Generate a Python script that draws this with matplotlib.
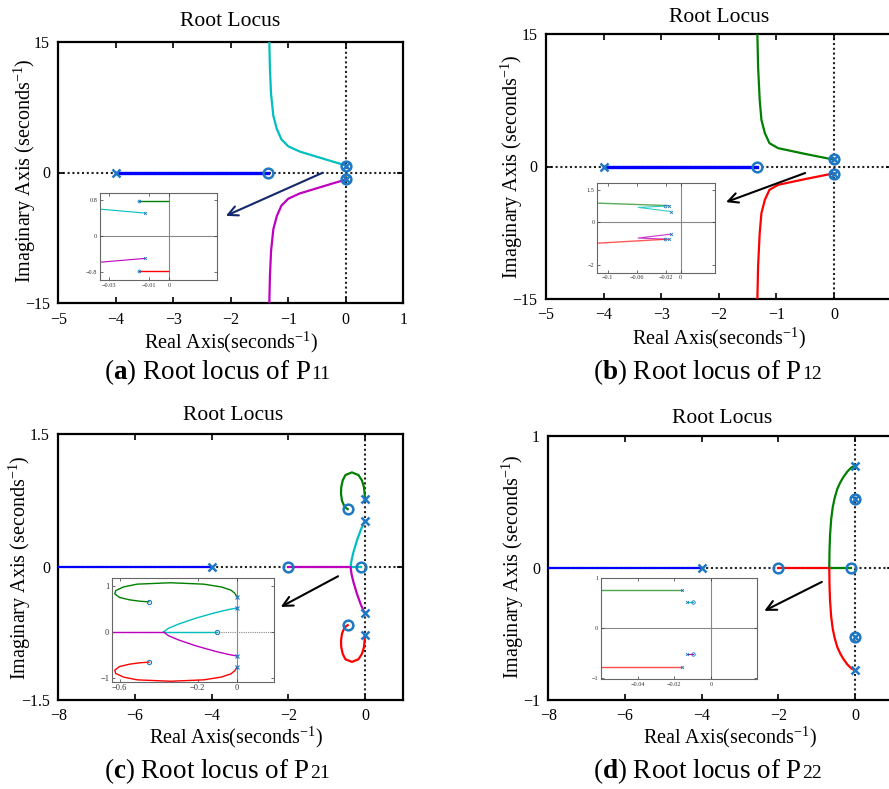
import matplotlib
matplotlib.use('Agg')
import matplotlib.pyplot as plt

plt.rcParams['font.family'] = ['Liberation Serif', 'DejaVu Serif']
plt.rcParams['mathtext.fontset'] = 'custom'
plt.rcParams['mathtext.rm'] = 'Liberation Serif'
plt.rcParams['mathtext.it'] = 'Liberation Serif:italic'
plt.rcParams['mathtext.bf'] = 'Liberation Serif:bold'
plt.rcParams['axes.unicode_minus'] = True

# ---------------- DATA ----------------
# Panel (a): P11
a_blue_x = [-4.0, -1.35]
a_blue_y = [0.0, 0.0]
a_cyan_x = [-0.02, -0.25, -0.5, -0.8, -1.0, -1.12, -1.2, -1.26, -1.3, -1.32, -1.33]
a_cyan_y = [0.85, 1.3, 1.8, 2.4, 3.0, 3.8, 5.0, 6.5, 9.0, 12.0, 15.0]
a_mag_x = [-0.02, -0.25, -0.5, -0.8, -1.0, -1.12, -1.2, -1.26, -1.3, -1.32, -1.33]
a_mag_y = [-0.85, -1.3, -1.8, -2.4, -3.0, -3.8, -5.0, -6.5, -9.0, -12.0, -15.0]
a_poles_x = [-4.0, 0.0, 0.0]
a_poles_y = [0.0, 0.8, -0.8]
a_zeros_x = [-1.35, 0.0, 0.0]
a_zeros_y = [0.0, 0.8, -0.8]
# inset (a)
ai_green_x = [-0.0153, -0.0007]
ai_green_y = [0.79, 0.79]
ai_cyan_x = [-0.0345, -0.012]
ai_cyan_y = [0.605, 0.517]
ai_mag_x = [-0.0345, -0.012]
ai_mag_y = [-0.575, -0.49]
ai_red_x = [-0.0153, -0.0007]
ai_red_y = [-0.76, -0.76]
ai_zeros_x = [-0.0153, -0.0153]
ai_zeros_y = [0.79, -0.76]
ai_poles_x = [-0.012, -0.012]
ai_poles_y = [0.517, -0.49]

# Panel (b): P12
b_blue_x = [-4.0, -1.335]
b_blue_y = [0.0, 0.0]
b_green_x = [-0.02, -0.51, -0.97, -1.12, -1.2, -1.26, -1.29, -1.318, -1.33]
b_green_y = [0.8, 1.44, 2.08, 2.64, 3.78, 5.29, 7.56, 11.33, 15.0]
b_red_x = [-0.02, -0.51, -0.97, -1.12, -1.2, -1.26, -1.29, -1.318, -1.33]
b_red_y = [-0.8, -1.44, -2.08, -2.64, -3.78, -5.29, -7.56, -11.33, -15.0]
b_poles_x = [-4.0, 0.0, 0.0]
b_poles_y = [0.0, 0.8, -0.8]
b_zeros_x = [-1.335, 0.0, 0.0]
b_zeros_y = [0.0, 0.8, -0.8]
# inset (b)
bi_green_x = [-0.114, -0.0214, -0.016]
bi_green_y = [0.88, 0.77, 0.76]
bi_cyan_x = [-0.0132, -0.058, -0.0214]
bi_cyan_y = [0.49, 0.68, 0.74]
bi_mag_x = [-0.0132, -0.058, -0.0214]
bi_mag_y = [-0.56, -0.74, -0.79]
bi_red_x = [-0.114, -0.0214, -0.016]
bi_red_y = [-0.98, -0.80, -0.80]
bi_zeros_x = [-0.0214, -0.0214]
bi_zeros_y = [0.76, -0.79]
bi_poles_x = [-0.016, -0.016, -0.0132, -0.0132]
bi_poles_y = [0.76, -0.79, 0.49, -0.56]

# Panel (c): P21
c_blue_x = [-8.0, -4.0]
c_blue_y = [0.0, 0.0]
c_magax_x = [-2.0, -0.375]
c_magax_y = [0.0, 0.0]
c_cyanax_x = [-0.375, -0.1]
c_cyanax_y = [0.0, 0.0]
c_cyan_x = [-0.375, -0.35, -0.3, -0.21, -0.11, -0.04, 0.0]
c_cyan_y = [0.0, 0.08, 0.17, 0.3, 0.42, 0.49, 0.52]
c_mag_x = [-0.375, -0.35, -0.3, -0.21, -0.11, -0.04, 0.0]
c_mag_y = [0.0, -0.08, -0.17, -0.3, -0.42, -0.49, -0.52]
c_green_x = [0.0, -0.01, -0.03, -0.08, -0.17, -0.34, -0.51, -0.58, -0.62, -0.625, -0.6, -0.55, -0.5, -0.45]
c_green_y = [0.77, 0.84, 0.91, 0.98, 1.04, 1.07, 1.04, 0.98, 0.9, 0.83, 0.75, 0.7, 0.67, 0.655]
c_red_x = [0.0, -0.01, -0.03, -0.08, -0.17, -0.34, -0.51, -0.58, -0.62, -0.625, -0.6, -0.55, -0.5, -0.45]
c_red_y = [-0.77, -0.84, -0.91, -0.98, -1.04, -1.07, -1.04, -0.98, -0.9, -0.83, -0.75, -0.7, -0.67, -0.655]
c_poles_x = [-4.0, 0.0, 0.0, 0.0, 0.0]
c_poles_y = [0.0, 0.77, -0.77, 0.52, -0.52]
c_zeros_x = [-2.0, -0.1, -0.45, -0.45]
c_zeros_y = [0.0, 0.0, 0.655, -0.655]

# Panel (d): P22
d_blue_x = [-8.0, -4.0]
d_blue_y = [0.0, 0.0]
d_redax_x = [-2.0, -0.67]
d_redax_y = [0.0, 0.0]
d_greenax_x = [-0.67, -0.1]
d_greenax_y = [0.0, 0.0]
d_green_x = [-0.67, -0.665, -0.65, -0.62, -0.58, -0.53, -0.46, -0.38, -0.3, -0.2, -0.1, 0.0]
d_green_y = [0.0, 0.12, 0.25, 0.37, 0.46, 0.53, 0.6, 0.65, 0.69, 0.73, 0.76, 0.775]
d_red_x = [-0.67, -0.665, -0.65, -0.62, -0.58, -0.53, -0.46, -0.38, -0.3, -0.2, -0.1, 0.0]
d_red_y = [0.0, -0.12, -0.25, -0.37, -0.46, -0.53, -0.6, -0.65, -0.69, -0.73, -0.76, -0.775]
d_poles_x = [-4.0, 0.0, 0.0, 0.0, 0.0]
d_poles_y = [0.0, 0.775, -0.775, 0.52, -0.52]
d_zeros_x = [-2.0, -0.1, 0.0, 0.0]
d_zeros_y = [0.0, 0.0, 0.52, -0.52]
# inset (d)
di_green_x = [-0.06, -0.0156]
di_green_y = [0.77, 0.77]
di_cyan_x = [-0.0133, -0.010]
di_cyan_y = [0.52, 0.52]
di_mag_x = [-0.0133, -0.010]
di_mag_y = [-0.514, -0.514]
di_red_x = [-0.06, -0.0156]
di_red_y = [-0.768, -0.768]
di_poles_x = [-0.0156, -0.0156, -0.0133, -0.0133]
di_poles_y = [0.77, -0.768, 0.52, -0.514]
di_zeros_x = [-0.010, -0.010]
di_zeros_y = [0.52, -0.514]

# ---------------- STYLE ----------------
C_BLUE = '#0000ff'
C_GREEN = '#008000'
C_RED = '#ff0000'
C_CYAN = '#00bfbf'
C_MAG = '#bf00bf'
C_MARK = '#1f78c4'

W, H = 889, 789
fig = plt.figure(figsize=(W / 100, H / 100), dpi=100)
renderer = fig.canvas.get_renderer()


def rect_px(l, t, r, b):
    return [l / W, 1 - b / H, (r - l) / W, (b - t) / H]


def ftext(x, y, s, **kw):
    return fig.text(x / W, 1 - y / H, s, ha='center', va='center', **kw)


def main_axes(rect, xlim, ylim, xticks, xtl, yticks, ytl):
    ax = fig.add_axes(rect)
    ax.set_xlim(xlim)
    ax.set_ylim(ylim)
    ax.set_xticks(xticks)
    ax.set_xticklabels(xtl)
    ax.set_yticks(yticks)
    ax.set_yticklabels(ytl)
    ax.tick_params(direction='in', top=True, right=True, length=4, width=1.2,
                   labelsize=11.5, pad=6)
    for s in ax.spines.values():
        s.set_linewidth(1.6)
    ax.axhline(0, color='#222222', lw=1.5, ls=(0, (1, 1.3)), zorder=1)
    ax.axvline(0, color='#222222', lw=1.5, ls=(0, (1, 1.3)), zorder=1)
    return ax


def inset_axes(rect, xlim, ylim, xticks, xtl, yticks, ytl, dotted_h=False):
    ax = fig.add_axes(rect)
    ax.set_xlim(xlim)
    ax.set_ylim(ylim)
    ax.set_xticks(xticks)
    ax.set_xticklabels(xtl)
    ax.set_yticks(yticks)
    ax.set_yticklabels(ytl)
    ax.tick_params(direction='in', top=True, right=True, length=2, width=0.5,
                   labelsize=4.5, pad=2, colors='#333333')
    for s in ax.spines.values():
        s.set_linewidth(0.8)
        s.set_color('#666666')
    ax.axhline(0, color='#888888', lw=0.8, ls=(0, (1, 1)) if dotted_h else '-', zorder=1)
    ax.axvline(0, color='#888888', lw=0.8, zorder=1)
    return ax


def markers(ax, px, py, zx, zy, ms_o=7, ms_x=6, mew=1.8):
    ax.plot(px, py, 'x', color=C_MARK, ms=ms_x, mew=mew, zorder=5)
    ax.plot(zx, zy, 'o', color=C_MARK, mfc='none', ms=ms_o, mew=mew, zorder=5)


def caption(cx, cy, letter, sub):
    size_main, size_sub = 19.5, 14
    t1 = fig.text(0, 1 - cy / H, r'($\mathbf{' + letter + r'}$) Root locus of P',
                  ha='left', va='baseline', fontsize=size_main)
    t2 = fig.text(0, 1 - cy / H, sub, ha='left', va='baseline', fontsize=size_sub)
    w1 = t1.get_window_extent(renderer).width
    w2 = t2.get_window_extent(renderer).width
    x0 = cx - (w1 + w2) / 2
    base = 1 - (cy + 6) / H
    t1.set_position((x0 / W, base))
    t2.set_position(((x0 + w1 + 0.5) / W, base))


def labels(tx, ty, xx, xy, yx, yy, cx, cy, letter, sub):
    ftext(tx, ty, 'Root Locus', fontsize=15.5)
    ftext(xx, xy, r'Real Axis(seconds$^{-1}$)', fontsize=14.5)
    ftext(yx, yy, r'Imaginary Axis (seconds$^{-1}$)', fontsize=14.5, rotation=90)
    caption(cx, cy, letter, sub)


arrow_kw = dict(arrowstyle='->,head_length=0.7,head_width=0.35', lw=1.5)

# ---------------- (a) ----------------
ax = main_axes(rect_px(58.3, 41.7, 403.3, 303.3), (-5, 1), (-15, 15),
               [-5, -4, -3, -2, -1, 0, 1], ['\u22125', '\u22124', '\u22123', '\u22122', '\u22121', '0', '1'],
               [-15, 0, 15], ['\u221215', '0', '15'])
ax.plot(a_blue_x, a_blue_y, color=C_BLUE, lw=2.4, zorder=3)
ax.plot(a_cyan_x, a_cyan_y, color=C_CYAN, lw=1.6, zorder=3)
ax.plot(a_mag_x, a_mag_y, color=C_MAG, lw=1.6, zorder=3)
markers(ax, a_poles_x, a_poles_y, a_zeros_x, a_zeros_y)
ax.annotate('', xy=(-2.13, -5.1), xytext=(-0.36, 0.1),
            arrowprops=dict(color='#14286e', **arrow_kw), annotation_clip=False)
labels(230.5, 21, 230.8, 342, 25, 171, 216.7, 373.3, 'a', '11')

ai = inset_axes(rect_px(100, 192.7, 216.7, 280), (-0.0345, 0.0235), (-0.97, 0.97),
                [-0.03, -0.01, 0], ['\u22120.03', '\u22120.01', '0'],
                [-0.8, 0, 0.8], ['\u22120.8', '0', '0.8'])
ai.plot(ai_green_x, ai_green_y, color=C_GREEN, lw=1.0)
ai.plot(ai_cyan_x, ai_cyan_y, color=C_CYAN, lw=0.8)
ai.plot(ai_mag_x, ai_mag_y, color=C_MAG, lw=0.8)
ai.plot(ai_red_x, ai_red_y, color=C_RED, lw=1.0)
markers(ai, ai_poles_x, ai_poles_y, ai_zeros_x, ai_zeros_y, ms_o=2, ms_x=2, mew=0.6)

# ---------------- (b) ----------------
ax = main_axes(rect_px(546, 34.3, 891.6, 298.7), (-5, 1), (-15, 15),
               [-5, -4, -3, -2, -1, 0, 1], ['\u22125', '\u22124', '\u22123', '\u22122', '\u22121', '0', ''],
               [-15, 0, 15], ['\u221215', '0', '15'])
ax.plot(b_blue_x, b_blue_y, color=C_BLUE, lw=2.4, zorder=3)
ax.plot(b_green_x, b_green_y, color=C_GREEN, lw=1.6, zorder=3)
ax.plot(b_red_x, b_red_y, color=C_RED, lw=1.6, zorder=3)
markers(ax, b_poles_x, b_poles_y, b_zeros_x, b_zeros_y)
ax.annotate('', xy=(-1.92, -4.15), xytext=(-0.456, -0.63),
            arrowprops=dict(color='black', **arrow_kw), annotation_clip=False)
labels(719, 17, 719, 338, 511.7, 166.7, 707.5, 373.3, 'b', '12')

bi = inset_axes(rect_px(597.3, 183.3, 715, 272.7), (-0.114, 0.047), (-2.35, 1.8),
                [-0.1, -0.06, -0.02, 0], ['\u22120.1', '\u22120.06', '\u22120.02', '0'],
                [-2, 0, 1.5], ['\u22122', '0', '1.5'])
bi.plot(bi_green_x, bi_green_y, color=C_GREEN, lw=1.0, alpha=0.65)
bi.plot(bi_cyan_x, bi_cyan_y, color=C_CYAN, lw=0.8, alpha=0.8)
bi.plot(bi_mag_x, bi_mag_y, color=C_MAG, lw=0.8, alpha=0.8)
bi.plot(bi_red_x, bi_red_y, color=C_RED, lw=1.0, alpha=0.65)
markers(bi, bi_poles_x, bi_poles_y, bi_zeros_x, bi_zeros_y, ms_o=2, ms_x=2, mew=0.6)

# ---------------- (c) ----------------
ax = main_axes(rect_px(58.3, 434.3, 403.3, 700), (-8, 1), (-1.5, 1.5),
               [-8, -6, -4, -2, 0], ['\u22128', '\u22126', '\u22124', '\u22122', '0'],
               [-1.5, 0, 1.5], ['\u22121.5', '0', '1.5'])
ax.plot(c_blue_x, c_blue_y, color=C_BLUE, lw=1.6, zorder=3)
ax.plot(c_magax_x, c_magax_y, color=C_MAG, lw=1.6, zorder=3)
ax.plot(c_cyanax_x, c_cyanax_y, color=C_CYAN, lw=1.6, zorder=3)
ax.plot(c_cyan_x, c_cyan_y, color=C_CYAN, lw=1.6, zorder=3)
ax.plot(c_mag_x, c_mag_y, color=C_MAG, lw=1.6, zorder=3)
ax.plot(c_green_x, c_green_y, color=C_GREEN, lw=1.6, zorder=3)
ax.plot(c_red_x, c_red_y, color=C_RED, lw=1.6, zorder=3)
markers(ax, c_poles_x, c_poles_y, c_zeros_x, c_zeros_y)
ax.annotate('', xy=(-2.26, -0.464), xytext=(-0.638, -0.088),
            arrowprops=dict(color='black', **arrow_kw), annotation_clip=False)
labels(233, 415.7, 236, 737.7, 20, 567.5, 216.7, 771.7, 'c', '21')

ci = inset_axes(rect_px(112, 577.7, 274.3, 681.7), (-0.639, 0.192), (-1.08, 1.18),
                [-0.6, -0.2, 0], ['\u22120.6', '\u22120.2', '0'],
                [-1, 0, 1], ['\u22121', '0', '1'], dotted_h=True)
ci.tick_params(labelsize=6)
ci.plot(c_magax_x, c_magax_y, color=C_MAG, lw=1.0)
ci.plot(c_cyanax_x, c_cyanax_y, color=C_CYAN, lw=1.0)
ci.plot(c_cyan_x, c_cyan_y, color=C_CYAN, lw=1.0)
ci.plot(c_mag_x, c_mag_y, color=C_MAG, lw=1.0)
ci.plot(c_green_x, c_green_y, color=C_GREEN, lw=1.0)
ci.plot(c_red_x, c_red_y, color=C_RED, lw=1.0)
markers(ci, c_poles_x, c_poles_y, c_zeros_x, c_zeros_y, ms_o=3, ms_x=2.5, mew=0.8)

# ---------------- (d) ----------------
ax = main_axes(rect_px(548.3, 436, 893.3, 700), (-8, 1), (-1, 1),
               [-8, -6, -4, -2, 0], ['\u22128', '\u22126', '\u22124', '\u22122', '0'],
               [-1, 0, 1], ['\u22121', '0', '1'])
ax.plot(d_blue_x, d_blue_y, color=C_BLUE, lw=1.6, zorder=3)
ax.plot(d_redax_x, d_redax_y, color=C_RED, lw=1.6, zorder=3)
ax.plot(d_greenax_x, d_greenax_y, color=C_GREEN, lw=1.6, zorder=3)
ax.plot(d_green_x, d_green_y, color=C_GREEN, lw=1.6, zorder=3)
ax.plot(d_red_x, d_red_y, color=C_RED, lw=1.6, zorder=3)
markers(ax, d_poles_x, d_poles_y, d_zeros_x, d_zeros_y)
ax.annotate('', xy=(-2.43, -0.334), xytext=(-0.80, -0.096),
            arrowprops=dict(color='black', **arrow_kw), annotation_clip=False)
labels(722.5, 418.3, 730, 737.7, 513.3, 566.7, 707.5, 771.7, 'd', '22')

di = inset_axes(rect_px(601, 578.3, 757.3, 679.3), (-0.060, 0.0252), (-1.02, 1.0),
                [-0.04, -0.02, 0], ['\u22120.04', '\u22120.02', '0'],
                [-1, 0, 1], ['\u22121', '0', '1'])
di.plot(di_green_x, di_green_y, color=C_GREEN, lw=1.0, alpha=0.7)
di.plot(di_cyan_x, di_cyan_y, color=C_CYAN, lw=0.8)
di.plot(di_mag_x, di_mag_y, color=C_MAG, lw=0.8)
di.plot(di_red_x, di_red_y, color=C_RED, lw=1.0, alpha=0.7)
markers(di, di_poles_x, di_poles_y, di_zeros_x, di_zeros_y, ms_o=2.5, ms_x=2, mew=0.6)

fig.savefig('out.png', dpi=100)
